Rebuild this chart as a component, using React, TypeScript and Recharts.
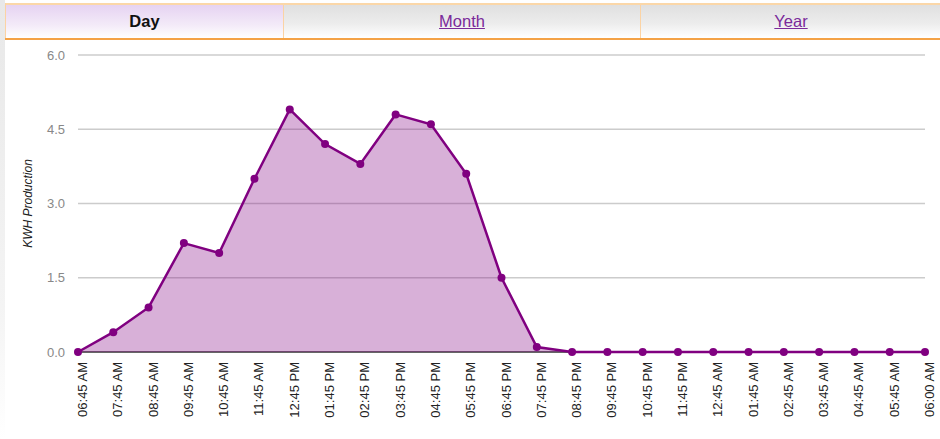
import { AreaChart, Area, XAxis, YAxis, CartesianGrid, Label } from 'recharts'

const times = [
  '06:45 AM', '07:45 AM', '08:45 AM', '09:45 AM', '10:45 AM', '11:45 AM',
  '12:45 PM', '01:45 PM', '02:45 PM', '03:45 PM', '04:45 PM', '05:45 PM',
  '06:45 PM', '07:45 PM', '08:45 PM', '09:45 PM', '10:45 PM', '11:45 PM',
  '12:45 AM', '01:45 AM', '02:45 AM', '03:45 AM', '04:45 AM', '05:45 AM',
  '06:00 AM',
]

const kwh = [
  0, 0.4, 0.9, 2.2, 2.0, 3.5, 4.9, 4.2, 3.8, 4.8, 4.6, 3.6,
  1.5, 0.1, 0, 0, 0, 0, 0, 0, 0, 0, 0, 0, 0,
]

const yTicks = [0, 1.5, 3, 4.5, 6]

const tabs = ['Day', 'Month', 'Year']

const chartData = times.map((time, i) => ({ time, kwh: kwh[i] }))

const font = "'Liberation Sans', Arial, sans-serif"

const TimeTick = (props: any) => {
  const { x, y, payload } = props
  return (
    <g transform={`translate(${x},${y + 2})`}>
      <text x={0} y={9} transform="rotate(-90)" textAnchor="end" fontSize={13} fill="#222" fontFamily={font}>
        {payload.value}
      </text>
    </g>
  )
}

// grid line at the base is drawn darker so it sits under the series like the axis in the original
const GridLine = (props: any) => {
  const { x1, x2, y1, y2, index } = props
  const base = index === 0
  return <line x1={x1} x2={x2} y1={y1} y2={y2} stroke={base ? '#666' : '#cccccc'} strokeWidth={base ? 2 : 1.5} />
}

export default function App() {
  const tabBox = (label: string, i: number) => {
    const active = i === 0
    const lefts = [6, 284, 641]
    const widths = [277, 356, 300]
    return (
      <div
        key={label}
        style={{
          position: 'absolute',
          left: lefts[i],
          top: 5,
          width: widths[i],
          height: 33,
          background: active
            ? 'linear-gradient(#e6d3f2, #f3eaf8 60%, #ffffff)'
            : 'linear-gradient(#e0e0e0, #ececec 55%, #ffffff)',
          borderRight: i < 2 ? '1px solid #fbd3a4' : 'none',
          display: 'flex',
          alignItems: 'center',
          justifyContent: 'center',
          fontFamily: font,
          fontSize: 16.5,
          fontWeight: active ? 'bold' : 'normal',
          color: active ? '#111' : '#7a2a9a',
          textDecoration: active ? 'none' : 'underline',
        }}
      >
        {label}
      </div>
    )
  }

  return (
    <div style={{ position: 'absolute', left: 0, top: 0, width: 940, height: 439, background: '#fff', overflow: 'hidden' }}>
      <div style={{ position: 'absolute', left: 0, top: 0, width: 5, height: 439, background: 'linear-gradient(#e8e8e8, #f4f4f4 70%, #ffffff)' }} />
      <div style={{ position: 'absolute', left: 5, top: 3, width: 935, height: 2, background: '#fbd7a8' }} />
      <div style={{ position: 'absolute', left: 5, top: 3, width: 1, height: 36, background: '#fbd3a4' }} />
      {tabs.map(tabBox)}
      <div style={{ position: 'absolute', left: 5, top: 38, width: 935, height: 2, background: '#f4a246' }} />
      <div style={{ position: 'absolute', left: 0, top: 0 }}>
        <AreaChart width={940} height={439} data={chartData} margin={{ top: 55, right: 15, bottom: 27, left: 0 }}>
          <CartesianGrid vertical={false} horizontal={(p: any) => <GridLine {...p} />} />
          <XAxis dataKey="time" interval={0} tick={<TimeTick />} tickLine={false} height={60} axisLine={false} />
          <YAxis
            domain={[0, 6]}
            ticks={yTicks}
            tickFormatter={(v: number) => v.toFixed(1)}
            axisLine={false}
            tickLine={false}
            tickMargin={7}
            width={78}
            tick={{ fontSize: 13, fill: '#888', fontFamily: font }}
          >
            <Label
              content={({ viewBox }: any) => {
                const cx = viewBox.x + 32
                const cy = viewBox.y + viewBox.height / 2
                return (
                  <text
                    x={cx}
                    y={cy}
                    transform={`rotate(-90, ${cx}, ${cy})`}
                    textAnchor="middle"
                    fontSize={12}
                    fontStyle="italic"
                    fill="#222"
                    fontFamily={font}
                  >
                    KWH Production
                  </text>
                )
              }}
            />
          </YAxis>
          <Area
            type="linear"
            dataKey="kwh"
            stroke="#800080"
            strokeWidth={2.5}
            fill="#800080"
            fillOpacity={0.31}
            dot={{ r: 4, fill: '#800080', fillOpacity: 1, stroke: '#800080', strokeWidth: 0 }}
            isAnimationActive={false}
          />
        </AreaChart>
      </div>
    </div>
  )
}
